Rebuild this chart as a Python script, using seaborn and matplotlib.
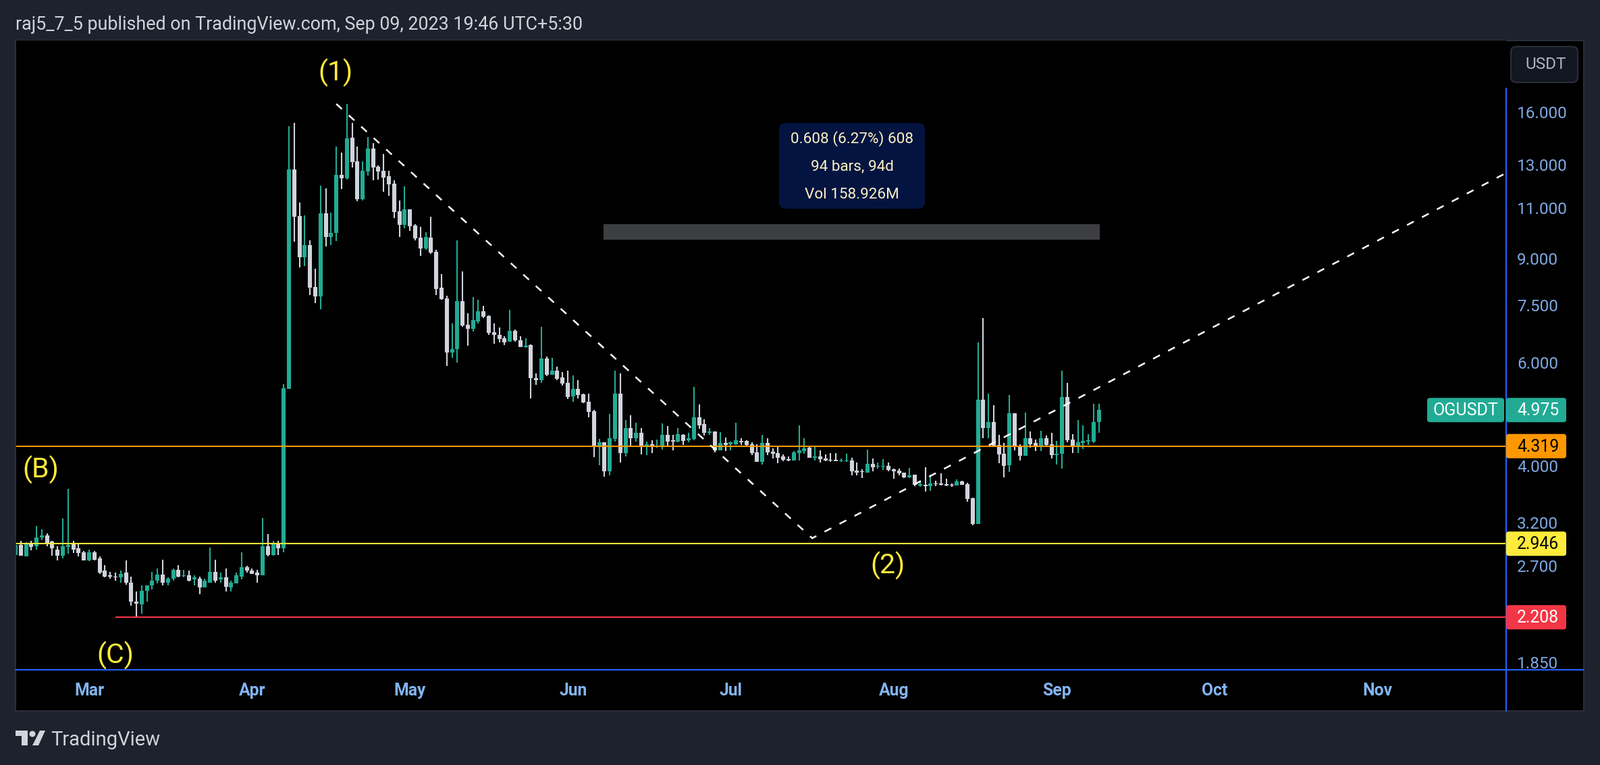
import matplotlib
matplotlib.use("Agg")
import matplotlib.pyplot as plt
from matplotlib.patches import Rectangle, FancyBboxPatch, Polygon, Circle
from matplotlib.lines import Line2D
from matplotlib.ticker import NullLocator, NullFormatter
import pandas as pd
import seaborn as sns

W, H = 2370, 1133

first_date = "2023-02-15"
open_ = [2.82,2.93,2.80,2.95,2.92,3.02,3.04,2.97,2.88,2.81,2.91,2.94,2.89,2.85,
 2.76,2.85,2.78,2.65,2.60,2.59,2.58,2.63,2.53,2.35,2.32,2.45,2.50,2.55,2.61,2.53,2.57,2.66,2.595,2.60,2.56,2.57,2.48,2.53,2.64,2.56,2.58,2.48,2.52,2.59,2.69,2.65,2.63,2.60,2.92,2.82,2.95,
 2.89,5.41,12.79,10.65,9.06,9.49,8.05,7.76,10.75,9.80,9.96,12.50,12.33,14.47,13.18,11.38,12.67,13.87,12.92,12.70,12.43,12.08,10.83,10.28,10.92,10.25,9.77,9.37,9.77,9.24,8.03,7.71,6.24,6.32,7.62,6.95,6.84,7.05,7.32,7.20,6.75,6.68,6.60,6.50,6.78,6.54,6.37,6.42,5.64,
 5.59,6.09,5.71,5.81,5.65,5.54,5.25,5.40,5.29,5.14,4.95,4.32,4.38,3.91,4.44,5.30,4.20,4.64,4.46,4.55,4.32,4.35,4.31,4.32,4.51,4.42,4.40,4.52,4.42,4.44,4.83,4.71,4.55,4.57,4.25,4.37,4.35,4.35,4.41,4.41,4.35,4.21,4.06,4.37,4.22,4.20,4.15,4.10,4.08,4.20,4.24,4.29,4.13,4.15,4.11,4.09,4.09,4.07,4.07,4.08,3.92,3.91,3.89,4.03,3.99,3.99,4.00,3.94,3.92,3.89,3.82,3.86,3.70,3.71,3.69,3.73,3.73,3.72,3.715,3.70,3.76,3.72,3.52,3.18,5.18,4.63,4.75,4.34,4.19,4.01,4.91,4.32,4.16,4.46,4.37,4.30,4.46,4.35,4.17,4.19,5.23,4.43,4.30,4.37,4.40,4.40,4.75]
high = [2.96,2.98,2.96,2.98,3.16,3.12,3.07,2.98,2.92,3.25,3.65,2.98,2.94,2.86,
 2.88,2.86,2.80,2.71,2.64,2.63,2.65,2.76,2.59,2.44,2.50,2.50,2.64,2.67,2.77,2.58,2.67,2.71,2.66,2.65,2.60,2.59,2.57,2.90,2.77,2.63,2.67,2.55,2.63,2.85,2.70,2.67,2.66,3.26,3.06,2.98,
 2.98,5.50,15.13,15.34,11.22,10.68,9.67,8.65,11.99,11.86,10.79,13.97,13.65,16.52,15.34,13.97,13.18,14.50,14.18,12.99,13.57,12.70,12.23,11.31,11.95,10.92,10.31,10.20,9.99,10.62,9.33,8.48,7.79,6.98,9.67,8.56,7.27,7.74,7.67,7.49,7.22,6.99,6.88,6.64,7.37,6.82,6.65,6.60,6.44,5.75,
 6.90,6.13,6.11,5.90,5.77,5.81,5.70,5.59,5.31,5.30,4.98,4.44,4.39,4.90,5.81,5.75,4.79,4.87,4.74,4.64,4.40,4.42,4.43,4.72,4.67,4.52,4.64,4.53,4.55,5.45,5.09,4.80,4.63,4.57,4.56,4.47,4.40,4.74,4.45,4.42,4.38,4.35,4.51,4.45,4.28,4.30,4.18,4.15,4.24,4.68,4.45,4.30,4.30,4.25,4.18,4.20,4.20,4.12,4.19,4.13,4.05,3.94,4.26,4.12,4.05,4.10,4.05,3.95,3.95,3.89,3.96,3.86,3.77,3.98,3.86,3.77,3.88,3.80,3.73,3.79,3.77,3.74,3.53,6.49,7.13,5.31,5.07,4.51,4.37,5.28,4.91,4.35,4.92,4.58,4.43,4.59,4.50,4.55,4.41,5.81,5.53,4.53,4.78,4.68,4.53,5.10,5.10]
low = [2.81,2.81,2.80,2.87,2.88,2.99,2.92,2.81,2.76,2.78,2.83,2.84,2.80,2.76,
 2.75,2.76,2.62,2.58,2.57,2.55,2.53,2.51,2.31,2.21,2.24,2.35,2.46,2.52,2.50,2.50,2.55,2.58,2.58,2.54,2.50,2.42,2.48,2.53,2.53,2.53,2.44,2.44,2.52,2.56,2.63,2.62,2.53,2.60,2.80,2.81,
 2.82,2.85,5.41,9.63,8.70,8.76,7.81,7.57,7.39,9.44,9.49,9.64,11.84,12.28,12.88,11.28,11.30,12.46,12.25,12.28,11.70,11.51,10.56,9.80,10.14,10.03,9.67,9.11,9.32,9.17,7.80,7.67,5.91,6.10,6.00,6.89,6.40,6.77,6.98,7.13,6.68,6.45,6.48,6.42,6.50,6.50,6.36,6.35,5.21,5.49,
 5.53,5.69,5.71,5.60,5.47,5.20,5.14,5.21,5.11,4.84,4.14,4.01,3.83,3.85,4.40,4.05,4.15,4.33,4.40,4.18,4.17,4.20,4.29,4.26,4.32,4.25,4.38,4.34,4.38,4.42,4.62,4.50,4.51,4.21,4.25,4.24,4.25,4.34,4.34,4.33,4.17,4.06,4.02,4.17,4.12,4.04,4.07,4.07,4.08,4.08,4.19,4.13,4.08,4.05,4.07,4.06,4.07,4.06,4.06,3.85,3.85,3.81,3.89,3.91,3.95,3.93,3.91,3.80,3.85,3.81,3.81,3.69,3.68,3.61,3.62,3.69,3.70,3.69,3.68,3.70,3.71,3.47,3.17,3.18,4.45,4.45,4.32,4.04,3.82,3.90,4.25,4.08,4.16,4.29,4.24,4.24,4.33,4.12,4.02,3.95,4.38,4.20,4.20,4.27,4.34,4.37,4.55]
close = [2.93,2.81,2.94,2.91,3.02,3.04,2.95,2.89,2.81,2.92,2.93,2.88,2.84,2.76,
 2.85,2.77,2.63,2.59,2.59,2.58,2.62,2.53,2.35,2.33,2.45,2.50,2.55,2.61,2.53,2.57,2.66,2.59,2.605,2.55,2.58,2.48,2.55,2.64,2.55,2.58,2.49,2.53,2.60,2.69,2.65,2.62,2.60,2.92,2.82,2.95,
 2.89,5.42,12.78,10.62,9.06,9.49,8.03,7.77,10.75,9.80,9.96,12.50,12.33,14.43,13.15,11.36,12.70,13.87,12.88,12.67,12.36,12.05,10.82,10.28,10.92,10.22,9.75,9.38,9.80,9.22,8.00,7.69,6.24,6.32,7.62,6.93,6.84,7.08,7.32,7.17,6.73,6.68,6.57,6.49,6.78,6.54,6.36,6.41,5.64,5.59,
 6.09,5.71,5.81,5.63,5.52,5.23,5.40,5.28,5.12,4.94,4.32,4.39,3.91,4.45,5.30,4.20,4.64,4.46,4.55,4.32,4.35,4.32,4.33,4.51,4.40,4.40,4.53,4.41,4.46,4.83,4.68,4.55,4.57,4.25,4.37,4.34,4.38,4.42,4.38,4.34,4.20,4.06,4.37,4.21,4.19,4.13,4.09,4.08,4.21,4.25,4.28,4.13,4.15,4.10,4.08,4.08,4.07,4.08,4.08,3.91,3.89,3.90,4.03,3.98,4.00,4.00,3.93,3.91,3.88,3.82,3.85,3.71,3.72,3.69,3.73,3.72,3.71,3.70,3.705,3.76,3.71,3.51,3.18,5.18,4.64,4.75,4.32,4.18,4.00,4.91,4.33,4.16,4.46,4.35,4.31,4.46,4.34,4.17,4.19,5.23,4.42,4.31,4.38,4.41,4.42,4.75,4.975]

y_ticks = [16.0, 13.0, 11.0, 9.0, 7.5, 6.0, 4.0, 3.2, 2.7, 1.85]
x_tick_dates = ["2023-03-01","2023-04-01","2023-05-01","2023-06-01","2023-07-01","2023-08-01","2023-09-01","2023-10-01","2023-11-01"]
x_tick_labels = ["Mar","Apr","May","Jun","Jul","Aug","Sep","Oct","Nov"]

last_price = 4.975
orange_level = 4.319
yellow_level = 2.946
red_level = 2.208
red_start = "2023-03-06"

trend_dates = ["2023-04-17 00:00", "2023-07-16 12:00", "2023-11-25 05:00"]
trend_prices = [16.52, 3.01, 12.57]
box_dates = ["2023-06-06 19:00", "2023-09-09 05:00"]
box_prices = [9.70, 10.31]

COL_UP, COL_DOWN = "#22ab94", "#d1d4dc"
BG, FRAME = "#1e222d", "#2a2e39"
BLUE, AXTXT, XTXT = "#2962ff", "#7fa9e3", "#82b4f2"
YEL = "#ffeb3b"

sns.set_theme(style="dark", rc={
    "font.family": "Roboto", "axes.facecolor": "black", "figure.facecolor": BG,
    "axes.grid": False, "xtick.bottom": False, "ytick.left": False,
})

dates = pd.date_range(first_date, periods=len(open_), freq="D")
bars = pd.DataFrame({"date": dates, "o": open_, "h": high, "l": low, "c": close})
bars["i"] = range(len(bars))
bars["dir"] = ["up" if c >= o else "down" for o, c in zip(bars.o, bars.c)]
wicks = bars.melt(id_vars=["i", "date", "dir"], value_vars=["l", "h"], value_name="price")
bodies = bars.melt(id_vars=["i", "date", "dir"], value_vars=["o", "c"], value_name="price")
palette = {"up": COL_UP, "down": COL_DOWN}

fig = plt.figure(figsize=(W / 100, H / 100), dpi=100, facecolor=BG)
def fx(x): return x / W
def fy(y): return 1 - y / H

fig.add_artist(Rectangle((fx(23), fy(1053)), (2346 - 23) / W, (1053 - 60) / H, transform=fig.transFigure,
                         fc="black", ec=FRAME, lw=1.5, zorder=-1))
ax = fig.add_axes([fx(23.5), fy(992), (2231 - 23.5) / W, (992 - 60) / H], zorder=1)
ax.set_yscale("log")

for frame, width in ((wicks, 1.5), (bodies, 4.4)):
    sns.lineplot(data=frame, x="date", y="price", units="i", hue="dir", palette=palette,
                 estimator=None, sort=False, legend=False, linewidth=width,
                 solid_capstyle="butt", ax=ax, zorder=2)

x0 = pd.Timestamp("2023-03-01") + pd.Timedelta(days=-13.93)
x1 = pd.Timestamp("2023-03-01") + pd.Timedelta(days=269.45)

ax.fill_between(pd.to_datetime(box_dates), box_prices[0], box_prices[1], color="#3d3e41", lw=0, zorder=2)
ax.axhline(orange_level, color="#ff9800", lw=1.5, zorder=3)
ax.axhline(yellow_level, color=YEL, lw=1.5, zorder=3)
ax.hlines(red_level, pd.Timestamp(red_start), x1, color="#f23645", lw=1.5, zorder=3)
sns.lineplot(x=pd.to_datetime(trend_dates), y=trend_prices, estimator=None, sort=False, color="white",
             linewidth=1.8, linestyle=(0, (4.5, 5.5)), ax=ax, zorder=4)

ax.set_xlim(x0, x1)
ax.set_ylim(1.797, 21.18)
ax.set_xlabel(""); ax.set_ylabel("")
for s in ax.spines.values():
    s.set_visible(False)
ax.yaxis.tick_right()
ax.yaxis.set_minor_locator(NullLocator())
ax.yaxis.set_minor_formatter(NullFormatter())
ax.set_yticks(y_ticks, [f"{v:.3f}" for v in y_ticks])
ax.tick_params(axis="y", length=0, pad=11.5, labelsize=17.5, labelcolor=AXTXT)
ax.set_xticks(pd.to_datetime(x_tick_dates), x_tick_labels)
ax.tick_params(axis="x", length=0, pad=14, labelsize=17.8, labelcolor=XTXT)
for t in ax.get_xticklabels():
    t.set_fontweight("bold")

def box(x0p, y0p, x1p, y1p, fc, ec="none", r=4, lw=0):
    fig.add_artist(FancyBboxPatch((x0p, H - y1p), x1p - x0p, y1p - y0p, boxstyle=f"round,pad=0,rounding_size={r}",
                                  transform=None, fc=fc, ec=ec, lw=lw, zorder=5))

def ftext(x, y, s, color, size, ha="center", weight="normal"):
    fig.text(fx(x), fy(y), s, color=color, fontsize=size, ha=ha, va="center", weight=weight, zorder=6)

def price_y(p):
    return H - ax.transData.transform((0, p))[1]

for level, fc, tc in ((last_price, COL_UP, "white"), (orange_level, "#ff9800", "black"),
                      (yellow_level, YEL, "black"), (red_level, "#f23645", "white")):
    y = price_y(level)
    box(2231, y - 18, 2320, y + 18, fc)
    ftext(2247, y + 1, f"{level:.3f}", tc, 17.8, ha="left")
y = price_y(last_price)
box(2114, y - 18, 2228, y + 18, COL_UP)
ftext(2171, y + 1, "OGUSDT", "white", 18)

box(2238, 69, 2337, 122, "#131722", ec=FRAME, r=8, lw=1.5)
ftext(2290, 96, "USDT", "#b2b5be", 17.5)

box(1154, 182, 1370, 309, "#031440", r=10)
TIP = "#fff3c4"
ftext(1262, 206, "0.608 (6.27%) 608", TIP, 16.2)
ftext(1262, 247, "94 bars, 94d", TIP, 16.2)
ftext(1262, 288, "Vol 158.926M", TIP, 16.2)

ftext(497, 108, "(1)", YEL, 29.5)
ftext(60, 696, "(B)", YEL, 29.5)
ftext(171, 971, "(C)", YEL, 29.5)
ftext(1315, 838, "(2)", YEL, 29.5)

fig.add_artist(Line2D([fx(23), fx(2346)], [fy(992)] * 2, color=BLUE, lw=1.5, zorder=7))
fig.add_artist(Line2D([fx(2231)] * 2, [fy(131), fy(1053)], color=BLUE, lw=1.5, zorder=4))

ftext(23, 36, "raj5_7_5 published on TradingView.com, Sep 09, 2023 19:46 UTC+5:30", COL_DOWN, 19.4, ha="left")

logo = "#d1d4dc"
fig.add_artist(Polygon([(23, H-1082), (41, H-1082), (41, H-1104), (32, H-1104), (32, H-1090), (23, H-1090)],
                       transform=None, fc=logo, ec="none", zorder=6))
fig.add_artist(Circle((48, H-1087), 4.5, transform=None, fc=logo, ec="none", zorder=6))
fig.add_artist(Polygon([(59, H-1082), (67, H-1082), (57, H-1104), (48, H-1104)],
                       transform=None, fc=logo, ec="none", zorder=6))
ftext(75, 1096, "TradingView", logo, 21, ha="left")

fig.savefig("out.png", dpi=100, facecolor=BG)
